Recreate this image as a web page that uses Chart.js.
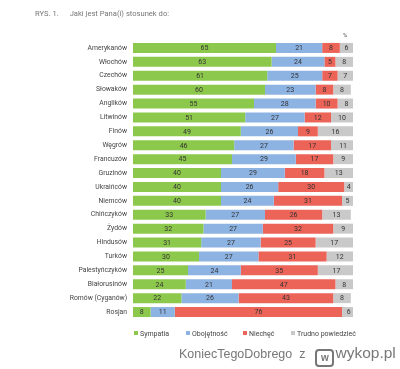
<!DOCTYPE html>
<html>
<head>
<meta charset="utf-8">
<script src="https://cdn.jsdelivr.net/npm/chart.js@4"></script>
<style>
  body { margin: 0; background: #fff; font-family: Roboto, "Noto Sans", sans-serif; }
  #wrap { position: relative; width: 400px; height: 369px; overflow: hidden; }
  #chart { position: absolute; left: 0; top: 0; }
  .txt { position: absolute; white-space: nowrap; }
  #tytul { left: 35px; top: 9px; font-size: 7.6px; color: #777; }
  #tytul span { margin-left: 11px; }
  #proc { left: 343px; top: 31px; font-size: 6px; color: #555; }
  #legenda { left: 0; top: 330px; width: 400px; font-size: 7px; color: #444; }
  #legenda div { position: absolute; top: 0; }
  #legenda i { display: inline-block; width: 4px; height: 4px; margin-right: 2px; vertical-align: 1px; }
  #znak { left: 179px; top: 344px; font-size: 12.5px; color: #777; font-family: "Liberation Sans", sans-serif; }
  #znak b { font-weight: normal; font-size: 15.5px; }
  #logo { display: inline-block; width: 15px; height: 14px; border: 2px solid #777; border-radius: 4px; vertical-align: -3px; margin: 0 1px 0 10px; font-size: 10px; line-height: 14px; text-align: center; font-weight: bold; }
</style>
</head>
<body>
<div id="wrap">
  <canvas id="chart" width="400" height="369"></canvas>
  <div class="txt" id="tytul">RYS. 1.<span>Jaki jest Pana(i) stosunek do:</span></div>
  <div class="txt" id="proc">%</div>
  <div class="txt" id="legenda"></div>
  <div class="txt" id="znak">KoniecTegoDobrego&nbsp; z<span id="logo">w</span><b>wykop.pl</b></div>
</div>
<script>
  let kategorie = ["Amerykanów", "Włochów", "Czechów", "Słowaków", "Anglików", "Litwinów", "Finów", "Węgrów", "Francuzów", "Gruzinów", "Ukraińców", "Niemców", "Chińczyków", "Żydów", "Hindusów", "Turków", "Palestyńczyków", "Białorusinów", "Romów (Cyganów)", "Rosjan"];
  let sympatia = [65, 63, 61, 60, 55, 51, 49, 46, 45, 40, 40, 40, 33, 32, 31, 30, 25, 24, 22, 8];
  let obojetnosc = [21, 24, 25, 23, 28, 27, 26, 27, 29, 29, 26, 24, 27, 27, 27, 27, 24, 21, 26, 11];
  let niechec = [8, 5, 7, 8, 10, 12, 9, 17, 17, 18, 30, 31, 26, 32, 25, 31, 35, 47, 43, 76];
  let trudno = [6, 8, 7, 8, 8, 10, 16, 11, 9, 13, 4, 5, 13, 9, 17, 12, 17, 8, 8, 6];

  let serie = [
    { label: "Sympatia", data: sympatia, color: "#8cc84b" },
    { label: "Obojętność", data: obojetnosc, color: "#8db3e2" },
    { label: "Niechęć", data: niechec, color: "#ec6358" },
    { label: "Trudno powiedzieć", data: trudno, color: "#c9c9c9" },
  ];

  // etykiety wartosci w srodku segmentow
  const etykiety = {
    id: "etykiety",
    afterDatasetsDraw(chart) {
      let ctx = chart.ctx;
      ctx.save();
      ctx.font = "7px Roboto, sans-serif";
      ctx.fillStyle = "#333";
      ctx.textAlign = "center";
      ctx.textBaseline = "middle";
      chart.data.datasets.forEach(function (ds, i) {
        chart.getDatasetMeta(i).data.forEach(function (bar, j) {
          let x = (bar.x + bar.base) / 2;
          ctx.fillText(ds.data[j], x, bar.y + 0.5);
        });
      });
      ctx.restore();
    },
  };

  new Chart(document.getElementById("chart"), {
    type: "bar",
    data: {
      labels: kategorie,
      datasets: serie.map(function (s) {
        return {
          label: s.label,
          data: s.data,
          backgroundColor: s.color,
          borderWidth: 0,
          barPercentage: 0.72,
          categoryPercentage: 1,
        };
      }),
    },
    options: {
      indexAxis: "y",
      responsive: false,
      animation: false,
      layout: { padding: { top: 41, right: 47, bottom: 50, left: 0 } },
      plugins: { legend: { display: false }, tooltip: { enabled: false } },
      scales: {
        x: { stacked: true, min: 0, max: 100, display: false },
        y: {
          stacked: true,
          grid: { display: false, drawTicks: false },
          border: { display: false },
          ticks: { color: "#444", font: { size: 6.8, family: "Roboto" }, padding: 6 },
          afterFit: function (scale) {
            scale.width = 133;
          },
        },
      },
    },
    plugins: [etykiety],
  });

  // legenda
  let pozycje = [134, 186, 243, 291];
  let leg = document.getElementById("legenda");
  serie.forEach(function (s, i) {
    let d = document.createElement("div");
    d.style.left = pozycje[i] + "px";
    d.innerHTML = '<i style="background:' + s.color + '"></i>' + s.label;
    leg.appendChild(d);
  });
</script>
</body>
</html>
